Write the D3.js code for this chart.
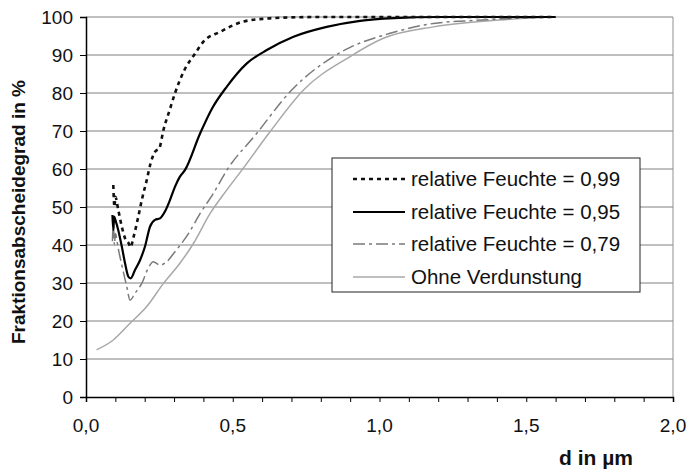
<!DOCTYPE html>
<html>
<head>
<meta charset="utf-8">
<script src="https://cdn.jsdelivr.net/npm/d3@7"></script>
<style>
  body { margin: 0; background: white; }
  svg { display: block; font-family: "Liberation Sans", Arial, sans-serif; }
</style>
</head>
<body>
<svg id="chart" width="688" height="473"></svg>
<script>
// values (d in µm, Fraktionsabscheidegrad in %)
const d_099 = [0.093, 0.097, 0.1, 0.11, 0.122, 0.133, 0.145, 0.152, 0.161, 0.178, 0.19, 0.207, 0.22, 0.235, 0.25, 0.264, 0.285, 0.303, 0.335, 0.372, 0.4, 0.457, 0.536, 0.616, 0.7, 0.8, 1.0, 1.2, 1.4, 1.6];
const v_099 = [55.8, 50, 52.7, 49.2, 44.8, 41.8, 40.5, 39.4, 41.8, 47.4, 51.8, 57.1, 61.5, 64.5, 65.5, 70.3, 75.5, 79.9, 86, 90.4, 93.5, 96.1, 98.8, 99.6, 99.9, 100, 100, 100, 100, 100];

const d_095 = [0.09, 0.093, 0.096, 0.1, 0.11, 0.122, 0.133, 0.144, 0.152, 0.167, 0.184, 0.201, 0.218, 0.235, 0.252, 0.269, 0.286, 0.303, 0.32, 0.337, 0.389, 0.43, 0.48, 0.548, 0.616, 0.707, 0.82, 0.934, 1.05, 1.2, 1.4, 1.6];
const v_095 = [47.9, 44, 47.5, 46.6, 43.9, 39.6, 35.2, 31.7, 31.2, 33.4, 36, 39.6, 44.8, 46.6, 47, 48.8, 51.8, 55.3, 58, 59.7, 69.4, 76, 81.7, 87.8, 91.3, 94.8, 97.4, 99, 99.7, 100, 100, 100];

const d_079 = [0.09, 0.093, 0.097, 0.1, 0.11, 0.122, 0.139, 0.15, 0.167, 0.19, 0.212, 0.229, 0.252, 0.275, 0.303, 0.349, 0.389, 0.434, 0.48, 0.582, 0.695, 0.843, 0.9, 1.036, 1.184, 1.35, 1.55];
const v_079 = [41, 46, 40, 43, 39, 34.7, 29, 25.5, 27.3, 29.9, 33.9, 35.6, 34.7, 35.6, 38.2, 43, 48.3, 53.6, 59.7, 69.4, 80.3, 89.6, 92, 95.7, 98.3, 99.2, 100];

const d_ohne = [0.036, 0.093, 0.15, 0.207, 0.264, 0.32, 0.366, 0.423, 0.48, 0.531, 0.627, 0.741, 0.9, 1.013, 1.184, 1.41, 1.58];
const v_ohne = [12.4, 15, 19.4, 23.8, 29.9, 35.2, 40.4, 48.3, 54.5, 59.7, 69.8, 80.8, 89.6, 94.4, 97.4, 99.2, 100];

const legend_labels = ["relative Feuchte = 0,99", "relative Feuchte = 0,95", "relative Feuchte = 0,79", "Ohne Verdunstung"];
const x_ticks = [0, 0.5, 1.0, 1.5, 2.0];
const y_ticks = [0, 10, 20, 30, 40, 50, 60, 70, 80, 90, 100];

let series = [
  { name: legend_labels[0], d: d_099, v: v_099, color: "#111", width: 2.6, dash: "4,4" },
  { name: legend_labels[1], d: d_095, v: v_095, color: "#000", width: 2.2, dash: null },
  { name: legend_labels[2], d: d_079, v: v_079, color: "#7a7a7a", width: 1.5, dash: "12,4,3,4" },
  { name: legend_labels[3], d: d_ohne, v: v_ohne, color: "#a8a8a8", width: 1.5, dash: null }
];

let svg = d3.select("#chart");
let x0 = 86, x1 = 673, y0 = 397, y1 = 17;

let x = d3.scaleLinear().domain([0, 2]).range([x0, x1]);
let y = d3.scaleLinear().domain([0, 100]).range([y0, y1]);

// grid
svg.append("g")
  .selectAll("line")
  .data(y_ticks.filter(t => t > 0))
  .enter().append("line")
    .attr("x1", x0).attr("x2", x1)
    .attr("y1", d => y(d)).attr("y2", d => y(d))
    .attr("stroke", "#808080").attr("stroke-width", 1);

// right border
svg.append("line")
  .attr("x1", x1).attr("x2", x1).attr("y1", y1).attr("y2", y0)
  .attr("stroke", "#909090").attr("stroke-width", 1);

// curves
let line = d3.line()
  .x(p => x(p[0]))
  .y(p => y(p[1]))
  .curve(d3.curveMonotoneX);

// draw back to front so the black curves sit on top
series.slice().reverse().forEach(s => {
  let pts = s.d.map((d, i) => [d, s.v[i]]);
  svg.append("path")
    .datum(pts)
    .attr("d", line)
    .attr("fill", "none")
    .attr("stroke", s.color)
    .attr("stroke-width", s.width)
    .attr("stroke-dasharray", s.dash)
    .attr("stroke-linejoin", "round");
});

// x axis
let x_axis = svg.append("g")
  .attr("transform", `translate(0,${y0})`)
  .call(d3.axisBottom(x)
    .tickValues(d3.range(0, 21).map(i => i / 10))
    .tickSize(5)
    .tickFormat(""));
x_axis.select(".domain").attr("stroke", "#000").attr("stroke-width", 1.5);
x_axis.selectAll(".tick line").attr("stroke", "#000");

svg.append("g")
  .selectAll("text")
  .data(x_ticks)
  .enter().append("text")
    .attr("x", d => x(d))
    .attr("y", 432)
    .attr("text-anchor", "middle")
    .attr("font-size", "19px")
    .attr("fill", "#111")
    .text(d => d3.format(".1f")(d).replace(".", ","));

// y axis
let y_axis = svg.append("g")
  .attr("transform", `translate(${x0},0)`)
  .call(d3.axisLeft(y)
    .tickValues(y_ticks)
    .tickSize(6)
    .tickPadding(7)
    .tickFormat(d3.format("d")));
y_axis.select(".domain").attr("stroke", "#000").attr("stroke-width", 1.5);
y_axis.selectAll(".tick line").attr("stroke", "#000");
y_axis.selectAll(".tick text")
  .attr("font-size", "19px")
  .attr("fill", "#111")
  .attr("font-family", "Liberation Sans, Arial, sans-serif");

// axis titles
svg.append("text")
  .attr("x", 633)
  .attr("y", 465)
  .attr("text-anchor", "end")
  .attr("font-size", "21px")
  .attr("font-weight", "bold")
  .attr("fill", "#111")
  .text("d in µm");

svg.append("text")
  .attr("transform", "translate(25,212) rotate(-90)")
  .attr("text-anchor", "middle")
  .attr("font-size", "19px")
  .attr("font-weight", "bold")
  .attr("fill", "#111")
  .text("Fraktionsabscheidegrad in %");

// legend
let legend = svg.append("g");
legend.append("rect")
  .attr("x", 332).attr("y", 158)
  .attr("width", 308).attr("height", 134)
  .attr("fill", "white")
  .attr("stroke", "#222").attr("stroke-width", 1);

let row_y = [179, 212, 244, 277];
series.forEach((s, i) => {
  legend.append("line")
    .attr("x1", 353).attr("x2", 405)
    .attr("y1", row_y[i]).attr("y2", row_y[i])
    .attr("stroke", s.color)
    .attr("stroke-width", s.width)
    .attr("stroke-dasharray", s.dash);
  legend.append("text")
    .attr("x", 411)
    .attr("y", row_y[i] + 7)
    .attr("font-size", "20.5px")
    .attr("fill", "#111")
    .text(s.name);
});
</script>
</body>
</html>
